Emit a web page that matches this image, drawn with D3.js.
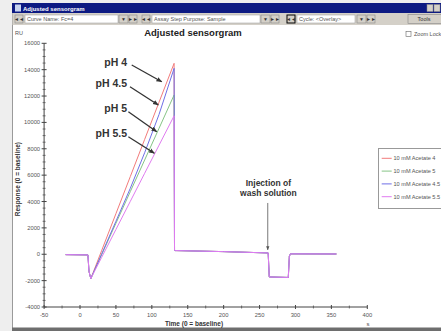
<!DOCTYPE html>
<html><head><meta charset="utf-8">
<script src="https://cdn.jsdelivr.net/npm/d3@7"></script>
<style>html,body{margin:0;padding:0;background:#fff;overflow:hidden}svg{display:block;font-family:Arial,"Liberation Sans",sans-serif}</style>
</head><body><svg id="c" width="441" height="331"></svg>
<script>
// ---- data ----
const seriesNames = ["10 mM Acetate 4", "10 mM Acetate 5", "10 mM Acetate 4.5", "10 mM Acetate 5.5"];
const seriesColors = ["#f27b7b", "#86c486", "#6f6fe6", "#e07cf0"];
const baseTime = [-20, 11, 12.5, 15];
const baseValues = [-30, -50, -1300, -1850];
const riseTime = [30, 50, 70, 90, 110, 131];
const riseAcetate4 = [260, 3080, 5890, 8710, 11530, 14480];
const riseAcetate5 = [-50, 2350, 4750, 7150, 9550, 12080];
const riseAcetate45 = [0, 2500, 5000, 7700, 10600, 14100];
const riseAcetate55 = [-250, 1880, 4010, 6140, 8270, 10500];
const washTime = [131.6, 132.5, 200, 262, 263.5, 290, 291.5, 293, 357];
const washValues = [300, 280, 200, 100, -1720, -1760, -150, 30, 20];
const xTickValues = [-50, 0, 50, 100, 150, 200, 250, 300, 350, 400];
const yTickValues = [-4000, -2000, 0, 2000, 4000, 6000, 8000, 10000, 12000, 14000, 16000];
const phLabels = ["pH 4", "pH 4.5", "pH 5", "pH 5.5"];
const phLabelAnchor = [[65.5, 14580], [65.5, 12985], [65.5, 11090], [65.5, 9190]];
const phArrowFrom = [[72, 14350], [69.6, 12707], [67.3, 10811], [67.3, 8916]];
const phArrowTo = [[113.8, 13085], [109, 11319], [106.8, 9295], [103.5, 7657]];
const washLabel = ["Injection of", "wash solution"];
const washLabelAnchor = [[262.3, 5430], [262.3, 4625]];
const washArrow = [[261.4, 3890], [261.4, 330]];

const riseSets = [riseAcetate4, riseAcetate5, riseAcetate45, riseAcetate55];
const series = riseSets.map((r, i) => {
  const pts = [];
  baseTime.forEach((t, j) => pts.push([t, baseValues[j]]));
  riseTime.forEach((t, j) => pts.push([t, r[j]]));
  washTime.forEach((t, j) => pts.push([t, washValues[j]]));
  return {name: seriesNames[i], color: seriesColors[i], pts};
});

const svg = d3.select("#c");

// ---- window chrome ----
svg.append("rect").attr("x", 0).attr("y", 0).attr("width", 441).attr("height", 331).attr("fill", "#fff");
svg.append("rect").attr("x", 0).attr("y", 0).attr("width", 12).attr("height", 331).attr("fill", "#eeeeee");
svg.append("rect").attr("x", 0).attr("y", 0).attr("width", 441).attr("height", 3).attr("fill", "#eeeeee");
svg.append("line").attr("x1", 12.5).attr("x2", 12.5).attr("y1", 3).attr("y2", 331).attr("stroke", "#9a9a9a");
svg.append("rect").attr("x", 12).attr("y", 3).attr("width", 429).attr("height", 10).attr("fill", "#0d1a82");
svg.append("rect").attr("x", 15).attr("y", 4.5).attr("width", 6).attr("height", 7).attr("fill", "#c8d4f0");
svg.append("text").attr("x", 23).attr("y", 10.5).attr("font-size", 6).attr("font-weight", "bold").attr("fill", "#fff").text("Adjusted sensorgram");
[[427, 6], [434, 6]].forEach(([x, w]) => svg.append("rect").attr("x", x).attr("y", 4.5).attr("width", w).attr("height", 7).attr("fill", "#d4d0c8").attr("stroke", "#888").attr("stroke-width", 0.5));
svg.append("rect").attr("x", 12.5).attr("y", 13).attr("width", 428.5).attr("height", 12).attr("fill", "#d4d0c8");
const tb = svg.append("g");
function btn(x, w, label, dark) {
  tb.append("rect").attr("x", x).attr("y", 15).attr("width", w).attr("height", 8).attr("fill", "#d4d0c8").attr("stroke", dark ? "#000" : "#888").attr("stroke-width", dark ? 1 : 0.6);
  tb.append("text").attr("x", x + w / 2).attr("y", 21).attr("text-anchor", "middle").attr("font-size", 5).attr("fill", "#333").text(label);
}
function box(x, w, label) {
  tb.append("rect").attr("x", x).attr("y", 15).attr("width", w).attr("height", 8).attr("fill", "#fff").attr("stroke", "#999").attr("stroke-width", 0.5);
  tb.append("text").attr("x", x + 2).attr("y", 21).attr("font-size", 5.5).attr("fill", "#555").text(label);
}
btn(15, 8, "◄◄"); box(25, 93, "Curve Name: Fc=4"); btn(119, 9, "▼"); btn(129, 8, "►►");
btn(142, 8, "◄◄"); box(152, 108, "Assay Step Purpose: Sample"); btn(261, 9, "▼"); btn(271, 8, "►►");
btn(287, 8, "◄◄", true); box(297, 58, "Cycle: <Overlay>"); btn(357, 9, "▼"); btn(367, 8, "►►");
tb.append("rect").attr("x", 408).attr("y", 14.5).attr("width", 36).attr("height", 9).attr("fill", "#d4d0c8").attr("stroke", "#888").attr("stroke-width", 0.6);
tb.append("text").attr("x", 424).attr("y", 21).attr("text-anchor", "middle").attr("font-size", 5.5).attr("fill", "#333").text("Tools");
svg.append("rect").attr("x", 406).attr("y", 31.5).attr("width", 5).attr("height", 5).attr("fill", "#fff").attr("stroke", "#666").attr("stroke-width", 0.6);
svg.append("text").attr("x", 414).attr("y", 36).attr("font-size", 5.5).attr("fill", "#555").text("Zoom Lock");
svg.append("rect").attr("x", 12).attr("y", 327.5).attr("width", 429).attr("height", 3.5).attr("fill", "#6e6e6e");

// ---- chart ----
const x = d3.scaleLinear().domain([-50, 400]).range([44.1, 367.3]);
const y = d3.scaleLinear().domain([-4000, 16000]).range([307, 43.3]);

svg.append("text").attr("x", 15).attr("y", 35).attr("font-size", 5.5).attr("fill", "#555").text("RU");
svg.append("text").attr("x", 193).attr("y", 36).attr("text-anchor", "middle").attr("font-size", 9.5).attr("font-weight", "bold").attr("fill", "#222").text("Adjusted sensorgram");

const axisColor = "#444";
const gx = svg.append("g").attr("transform", `translate(0,${y(-4000)})`);
gx.append("line").attr("x1", x(-50)).attr("x2", x(400)).attr("stroke", axisColor);
gx.selectAll(".mj").data(xTickValues).join("line").attr("x1", d => x(d)).attr("x2", d => x(d)).attr("y1", -2).attr("y2", 2).attr("stroke", axisColor);
gx.selectAll(".mn").data(d3.range(-25, 400, 50)).join("line").attr("x1", d => x(d)).attr("x2", d => x(d)).attr("y1", -1.5).attr("y2", 1.5).attr("stroke", axisColor).attr("stroke-width", 0.7);
gx.selectAll("text").data(xTickValues).join("text").attr("x", d => x(d)).attr("y", 10).attr("text-anchor", "middle").attr("font-size", 5.8).attr("fill", "#555").text(d => d);

const gy = svg.append("g").attr("transform", `translate(${x(-50)},0)`);
gy.append("line").attr("y1", y(-4000)).attr("y2", y(16000)).attr("stroke", axisColor);
gy.selectAll(".mj").data(yTickValues).join("line").attr("y1", d => y(d)).attr("y2", d => y(d)).attr("x1", -2.5).attr("x2", 2.5).attr("stroke", axisColor);
gy.selectAll(".mn").data(d3.range(-3500, 16000, 500).filter(v => v % 2000 !== 0)).join("line").attr("y1", d => y(d)).attr("y2", d => y(d)).attr("x1", -1.5).attr("x2", 1.5).attr("stroke", axisColor).attr("stroke-width", 0.7);
gy.selectAll("text").data(yTickValues).join("text").attr("x", -4).attr("y", d => y(d) + 2).attr("text-anchor", "end").attr("font-size", 5.8).attr("fill", "#555").text(d => d);

svg.append("text").attr("x", 194).attr("y", 326).attr("text-anchor", "middle").attr("font-size", 6.5).attr("font-weight", "bold").attr("fill", "#333").text("Time (0 = baseline)");
svg.append("text").attr("x", 368).attr("y", 326).attr("text-anchor", "middle").attr("font-size", 6).attr("fill", "#555").text("s");
svg.append("text").attr("transform", `translate(20,${(y(-4000) + y(16000)) / 2 + 4}) rotate(-90)`).attr("text-anchor", "middle").attr("font-size", 6.5).attr("font-weight", "bold").attr("fill", "#333").text("Response (0 = baseline)");

const line = d3.line().x(d => x(d[0])).y(d => y(d[1]));
svg.append("g").selectAll("path").data(series).join("path")
  .attr("d", d => line(d.pts)).attr("fill", "none").attr("stroke", d => d.color).attr("stroke-width", 1);

// annotations
const defs = svg.append("defs");
defs.append("marker").attr("id", "ah").attr("viewBox", "0 0 10 10").attr("refX", 9).attr("refY", 5)
  .attr("markerWidth", 4.5).attr("markerHeight", 4.5).attr("orient", "auto")
  .append("path").attr("d", "M0,1 L10,5 L0,9 Z").attr("fill", "#333");
defs.append("marker").attr("id", "ah2").attr("viewBox", "0 0 10 10").attr("refX", 9).attr("refY", 5)
  .attr("markerWidth", 5).attr("markerHeight", 5).attr("orient", "auto")
  .append("path").attr("d", "M0,1 L10,5 L0,9 Z").attr("fill", "#555");

svg.append("g").selectAll("text").data(phLabels).join("text")
  .attr("x", (d, i) => x(phLabelAnchor[i][0])).attr("y", (d, i) => y(phLabelAnchor[i][1]) + 3.5)
  .attr("text-anchor", "end").attr("font-size", 10.5).attr("font-weight", "bold").attr("fill", "#333").text(d => d);
svg.append("g").selectAll("line").data(phArrowFrom).join("line")
  .attr("x1", d => x(d[0])).attr("y1", d => y(d[1]))
  .attr("x2", (d, i) => x(phArrowTo[i][0])).attr("y2", (d, i) => y(phArrowTo[i][1]))
  .attr("stroke", "#333").attr("stroke-width", 1.3).attr("marker-end", "url(#ah)");

svg.append("g").selectAll("text").data(washLabel).join("text")
  .attr("x", (d, i) => x(washLabelAnchor[i][0])).attr("y", (d, i) => y(washLabelAnchor[i][1]) + 3)
  .attr("text-anchor", "middle").attr("font-size", 8.5).attr("font-weight", "bold").attr("fill", "#333").text(d => d);
svg.append("line").attr("x1", x(washArrow[0][0])).attr("y1", y(washArrow[0][1]))
  .attr("x2", x(washArrow[1][0])).attr("y2", y(washArrow[1][1]))
  .attr("stroke", "#555").attr("stroke-width", 0.8).attr("marker-end", "url(#ah2)");

// legend
const lg = svg.append("g");
lg.append("rect").attr("x", 378.5).attr("y", 148.5).attr("width", 72).attr("height", 60).attr("fill", "#fff").attr("stroke", "#999").attr("stroke-width", 1);
const li = lg.selectAll("g").data(series).join("g").attr("transform", (d, i) => `translate(0,${158.3 + i * 12.8})`);
li.append("line").attr("x1", 381.7).attr("x2", 391.7).attr("stroke", d => d.color).attr("stroke-width", 1);
li.append("text").attr("x", 393.5).attr("y", 2).attr("font-size", 5.6).attr("fill", "#555").text(d => d.name);
</script></body></html>
